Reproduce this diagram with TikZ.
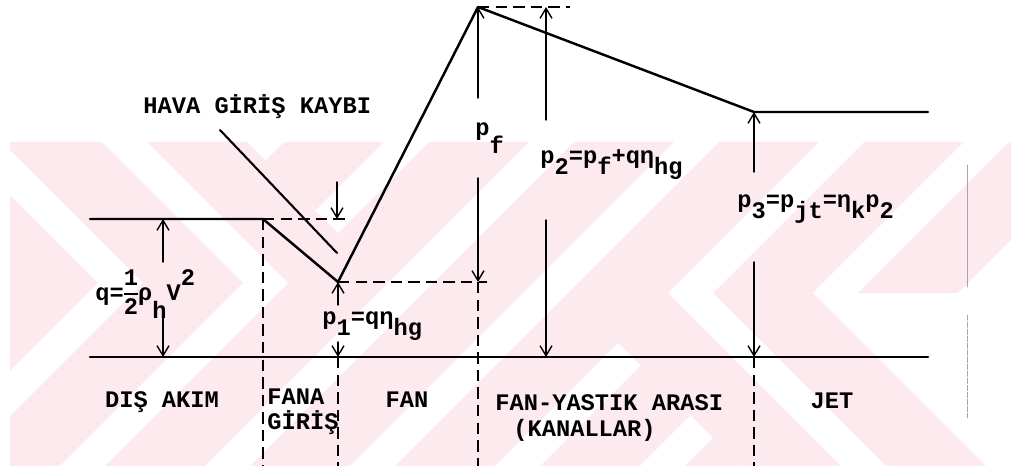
\documentclass[tikz,border=0pt]{standalone}
\usepackage{fontspec}
\setmainfont{Liberation Mono}
\usetikzlibrary{arrows.meta}
\definecolor{wmpink}{RGB}{253,234,238}
\newcommand{\lowr}[1]{\raisebox{-0.5em}{#1}}
\newcommand{\highr}[1]{\raisebox{0.62em}{#1}}

\begin{document}
\begin{tikzpicture}[x=0.02cm,y=-0.02cm,line cap=round,line join=round,
    prof/.style={line width=1.4pt},
    guide/.style={line width=1.1pt,dash pattern=on 6.5pt off 3.5pt,line cap=butt},
    dim/.style={line width=0.8pt,-{Straight Barb[length=2mm,width=2.4mm]}},
    lbl/.style={inner sep=0pt,font=\bfseries\fontsize{13.5}{16}\selectfont},
    wmband/.style={wmpink,line width=1.414cm,line cap=butt,line join=miter}]
    \useasboundingbox (0,0) rectangle (1011,466);

    % watermark
    \begin{scope}
        \clip (10,283) -- (388,283) -- (247,142) -- (1011,142) -- (1011,293)
            -- (568,293) -- (755,480) -- (10,480) -- cycle;
        \foreach \s in {186,331,...,1201}
            \draw[wmband] (\s+300,-300) -- (\s-800,800);
    \end{scope}
    \begin{scope}
        \clip (10,142) -- (247,142) -- (388,283) -- (10,283) -- cycle;
        \foreach \c in {-235,-90,55}
            \draw[wmband] (\c-300,-300) -- (\c+800,800);
    \end{scope}
    \begin{scope}
        \clip (568,293) -- (1011,293) -- (1011,480) -- (755,480) -- cycle;
        \foreach \c in {325,470}
            \draw[wmband] (\c-300,-300) -- (\c+800,800);
    \end{scope}

    % pressure line
    \coordinate (a) at (90,219);
    \coordinate (b) at (263,219);
    \coordinate (c) at (338,282);
    \coordinate (d) at (478,7);
    \coordinate (e) at (754,112);
    \coordinate (f) at (928,112);
    \coordinate (b0) at (90,357);
    \coordinate (b1) at (928,357);
    \coordinate (bot) at (0,466);
    \draw[prof] (a) -- (b) -- (c) -- (d) -- (e) -- (f);
    \draw[prof] (b0) -- (b1);

    % dashed guides
    \coordinate (hd) at (347,219);
    \coordinate (cd) at (487,282);
    \coordinate (dd) at (570,7);
    \draw[guide] (b) -- (hd);
    \draw[guide] (c) -- (cd);
    \draw[guide] (d) -- (dd);
    \draw[guide] (b) -- (b |- bot);
    \draw[guide] (c |- b0) -- (c |- bot);
    \draw[guide] (d |- c) -- (d |- bot);
    \draw[guide] (e |- b0) -- (e |- bot);

    % leader
    \coordinate (l1) at (220,130);
    \coordinate (l2) at (337,253);
    \draw[line width=1.2pt] (l1) -- (l2);

    % arrows
    \coordinate (qt) at (163,262);
    \coordinate (qb) at (163,315);
    \draw[dim] (qt) -- (qt |- a);
    \draw[dim] (qb) -- (qb |- b0);
    \coordinate (ht) at (337,182);
    \draw[dim] (ht) -- (ht |- b);
    \coordinate (p1t) at (338,305);
    \coordinate (p1b) at (338,342);
    \draw[dim] (p1t) -- (c);
    \draw[dim] (p1b) -- (p1b |- b0);
    \coordinate (pft) at (478,98);
    \coordinate (pfb) at (478,178);
    \draw[dim] (pft) -- (d);
    \draw[dim] (pfb) -- (pfb |- c);
    \coordinate (p2t) at (546,120);
    \coordinate (p2b) at (546,220);
    \draw[dim] (p2t) -- (p2t |- d);
    \draw[dim] (p2b) -- (p2b |- b0);
    \coordinate (p3t) at (754,172);
    \coordinate (p3b) at (754,262);
    \draw[dim] (p3t) -- (e);
    \draw[dim] (p3b) -- (p3b |- b0);

    % labels
    \node[lbl,anchor=base west] (hava) at (143,113) {HAVA GİRİŞ KAYBI};
    \node[lbl,anchor=base west] (qlbl) at (95,300)
        {q=\rlap{\rule[0.22em]{0.6em}{0.09em}}\rlap{\highr{1}}\raisebox{-0.62em}{2}ρ\raisebox{-0.8em}{h}V\highr{2}};
    \node[lbl,anchor=base west] (pf) at (475,135) {p\raisebox{-0.8em}{f}};
    \node[lbl,anchor=base west] (ptwo) at (540,163) {p\lowr{2}=p\lowr{f}+qη\lowr{hg}};
    \node[lbl,anchor=base west] (pthree) at (737,207) {p\lowr{3}=p\lowr{jt}=η\lowr{k}p\lowr{2}};
    \node[lbl,anchor=base west] (pone) at (322,324) {p\lowr{1}=qη\lowr{hg}};

    \node[lbl,anchor=base] (dis) at (162,407) {DIŞ AKIM};
    \node[lbl,anchor=base west] (fana) at (267,404) {FANA};
    \node[lbl,anchor=base west] (giris) at (267,429) {GİRİŞ};
    \node[lbl,anchor=base] (fan) at (407,407) {FAN};
    \node[lbl,anchor=base west] (arasi) at (495,410) {FAN-YASTIK ARASI};
    \node[lbl,anchor=base west] (kanal) at (513,436) {(KANALLAR)};
    \node[lbl,anchor=base] (jet) at (832,408) {JET};

    % scan edge marks
    \draw[gray!70,line width=0.5pt] (967,165) -- (967,287);
    \draw[gray!70,line width=0.5pt,dash pattern=on 3pt off 1pt] (967,315) -- (967,418);
\end{tikzpicture}
\end{document}
